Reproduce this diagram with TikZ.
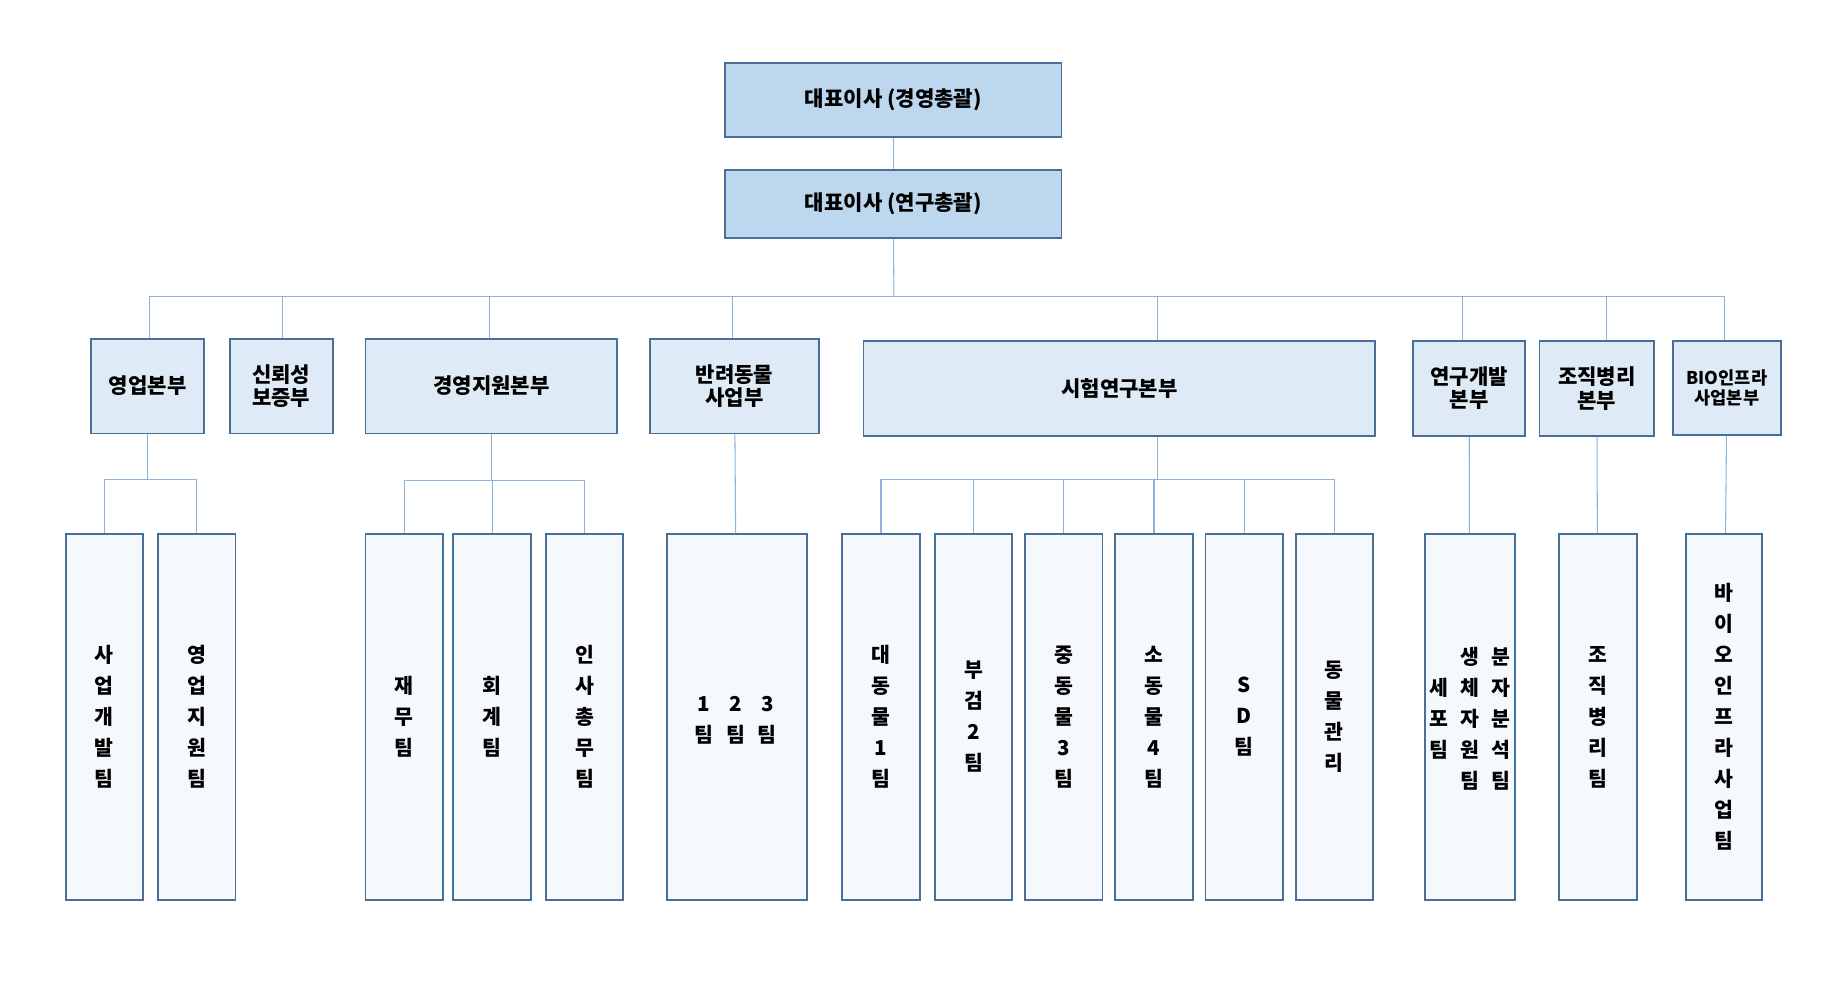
\documentclass[tikz,border=0pt]{standalone}
\usepackage{fontspec}
\setmainfont{Noto Sans CJK KR}
\usepackage{tikz}

\definecolor{boxline}{HTML}{4A6F96}
\definecolor{topfill}{HTML}{BDD7EE}
\definecolor{midfill}{HTML}{DEEBF7}
\definecolor{teamfill}{HTML}{F5F9FD}
\definecolor{linkcol}{HTML}{8DB3DA}

\begin{document}
\begin{tikzpicture}[x=1pt,y=-1pt,
    box/.style={draw=boxline,line width=1.6pt,inner sep=0pt,align=center},
    lvlone/.style={box,fill=topfill,minimum width=287pt,font=\bfseries\fontsize{18}{20}\selectfont},
    lvltwo/.style={box,fill=midfill,minimum height=81pt,font=\bfseries\fontsize{18}{20}\selectfont},
    team/.style={box,fill=teamfill,minimum width=66pt,minimum height=312pt,font=\bfseries\fontsize{17.5}{26.5}\selectfont},
    col/.style={inner sep=0pt,align=center,font=\bfseries\fontsize{17.5}{26.5}\selectfont},
    link/.style={draw=linkcol,line width=0.9pt}]
    \useasboundingbox (0,0) rectangle (1568,844);

    % 대표이사
    \node[lvlone,minimum height=63pt] (ceoa) at (762.5,85.5) {대표이사 (경영총괄)};
    \node[lvlone,minimum height=58pt] (ceob) at (762.5,174) {대표이사 (연구총괄)};

    % 본부
    \node[lvltwo,minimum width=96pt] (sales) at (126,329.5) {영업본부};
    \node[lvltwo,minimum width=88pt] (trust) at (240,329.5) {신뢰성\\보증부};
    \node[lvltwo,minimum width=215pt] (mgmt) at (419.5,329.5) {경영지원본부};
    \node[lvltwo,minimum width=144pt] (pet) at (627,329.5) {반려동물\\사업부};
    \node[lvltwo,minimum width=437pt] (test) at (955.5,331.5) {시험연구본부};
    \node[lvltwo,minimum width=96pt] (rnd) at (1254,331.5) {연구개발\\본부};
    \node[lvltwo,minimum width=98pt] (patho) at (1363,331.5) {조직병리\\본부};
    \node[lvltwo,minimum width=92pt,minimum height=80pt,font=\bfseries\fontsize{15}{16.5}\selectfont] (bio) at (1474,331) {BIO인프라\\사업본부};

    % 팀
    \node[team] (biz) at (89,612) {사\\업\\개\\발\\팀};
    \node[team] (supp) at (168,612) {영\\업\\지\\원\\팀};
    \node[team] (fin) at (345,612) {재\\무\\팀};
    \node[team] (acct) at (420,612) {회\\계\\팀};
    \node[team] (hr) at (499,612) {인\\사\\총\\무\\팀};
    \node[team,minimum width=120pt] (pets) at (629,612) {};
    \node[col] (petsa) at (601,615) {1\\팀};
    \node[col] (petsb) at (628,615) {2\\팀};
    \node[col] (petsc) at (655,615) {3\\팀};
    \node[team] (ta) at (752,612) {대\\동\\물\\1\\팀};
    \node[team] (tb) at (831,612) {부\\검\\2\\팀};
    \node[team] (tc) at (908,612) {중\\동\\물\\3\\팀};
    \node[team] (td) at (985,612) {소\\동\\물\\4\\팀};
    \node[team] (te) at (1062,612) {S\\D\\팀};
    \node[team] (tf) at (1139,612) {동\\물\\관\\리};
    \node[team,minimum width=77pt] (cell) at (1254.5,612) {};
    \node[col] (cella) at (1228,613.5) {세\\포\\팀};
    \node[col] (cellb) at (1255,613.5) {생\\체\\자\\원\\팀};
    \node[col] (cellc) at (1281,613.5) {분\\자\\분\\석\\팀};
    \node[team] (histo) at (1364,612) {조\\직\\병\\리\\팀};
    \node[team,minimum width=65pt] (infra) at (1471.5,612) {바\\이\\오\\인\\프\\라\\사\\업\\팀};

    % 연결선
    \coordinate (bus) at (763,253);
    \coordinate (salesbus) at (126,409);
    \coordinate (mgmtbus) at (419.5,410);
    \coordinate (testbus) at (988,409);
    \draw[link] (ceoa) -- (ceob);
    \draw[link] (ceob) -- (bus);
    \foreach \n/\dx in {sales/2,trust/1,mgmt/-1.5,pet/-2,test/32.5,rnd/-6,patho/8,bio/-2}
      \draw[link] ([xshift=\dx pt]\n.north) |- (bus);
    \draw[link] (sales.south) -- (salesbus);
    \foreach \t in {biz,supp}
      \draw[link] (\t.north) |- (salesbus);
    \draw[link] (mgmt.south) -- (mgmtbus);
    \foreach \t in {fin,acct,hr}
      \draw[link] (\t.north) |- (mgmtbus);
    \draw[link] (test.south -| testbus) -- (testbus);
    \foreach \t in {ta,tb,tc,td,te,tf}
      \draw[link] (\t.north) |- (testbus);
    \draw[link] (pet) -- (pets);
    \draw[link] (rnd) -- (cell);
    \draw[link] (patho) -- (histo);
    \draw[link] (bio) -- (infra);
\end{tikzpicture}
\end{document}
